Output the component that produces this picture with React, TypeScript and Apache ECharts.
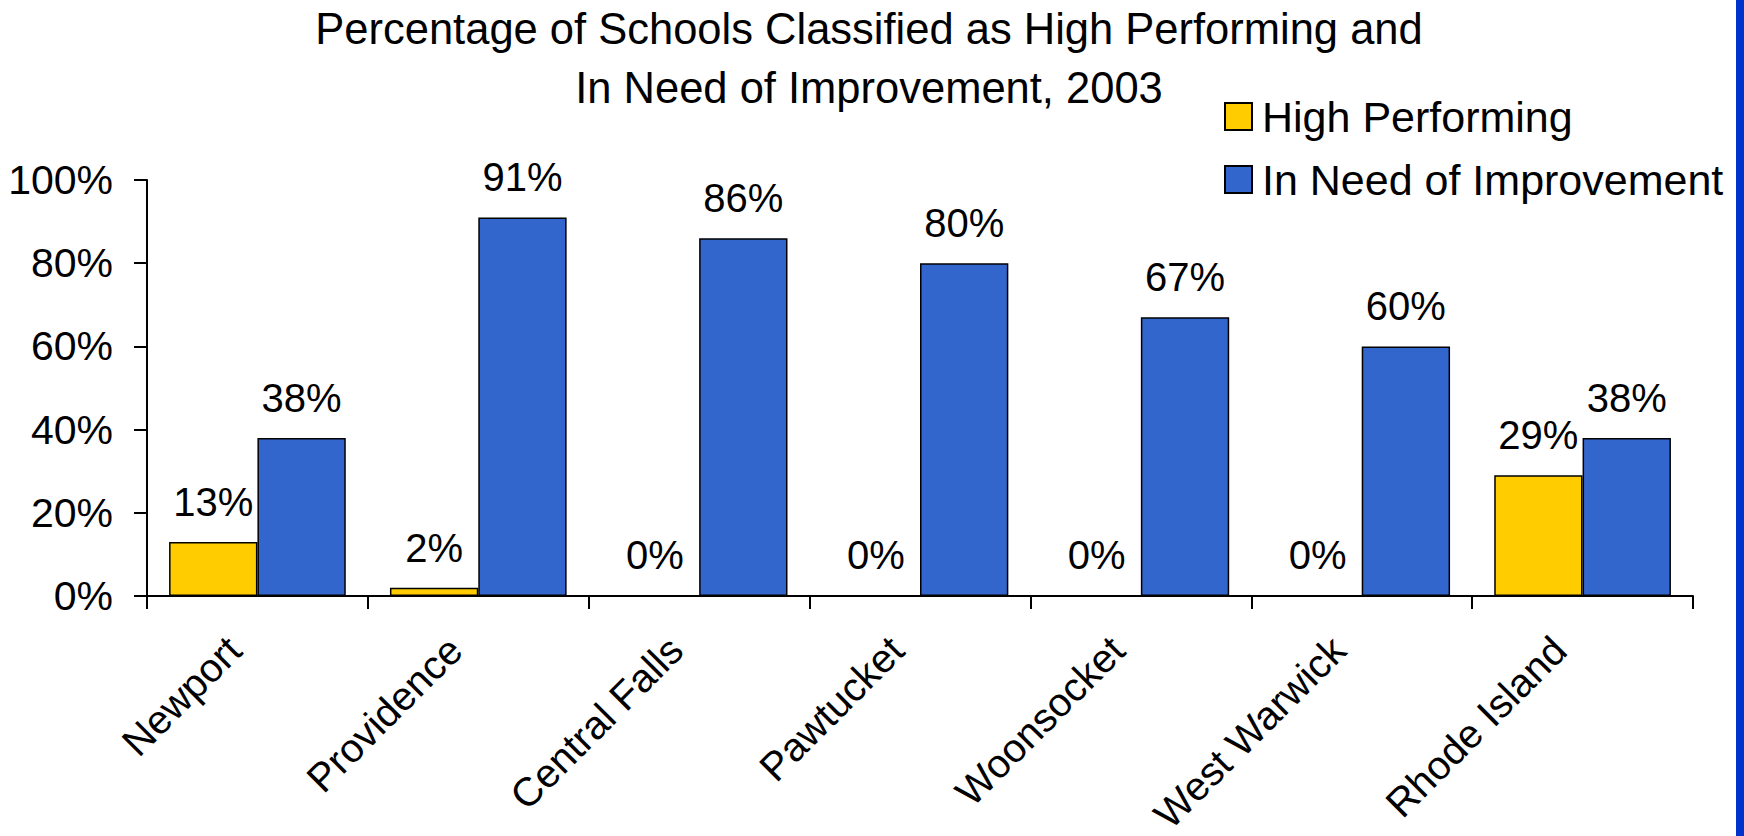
import React, { useEffect, useRef } from "react";
import * as echarts from "echarts";

const categories = ["Newport", "Providence", "Central Falls", "Pawtucket", "Woonsocket", "West Warwick", "Rhode Island"];
const highPerforming = [13, 2, 0, 0, 0, 0, 29];
const needImprovement = [38, 91, 86, 80, 67, 60, 38];
const seriesNames = ["High Performing", "In Need of Improvement"];
const titleLines = ["Percentage of Schools Classified as High Performing and", "In Need of Improvement, 2003"];

const FONT = "'Liberation Sans', Arial, Helvetica, sans-serif";

export default function App() {
  const ref = useRef<HTMLDivElement>(null);
  useEffect(() => {
    if (!ref.current) return;
    const chart = echarts.init(ref.current, null, { renderer: "svg" });
    const labelCfg = {
      show: true,
      position: "top",
      distance: 20,
      formatter: "{c}%",
      color: "#000",
      fontSize: 40,
      fontFamily: FONT,
    };
    chart.setOption({
      animation: false,
      backgroundColor: "#fff",
      textStyle: { fontFamily: FONT },
      graphic: [
        {
          type: "text",
          x: 869,
          y: -1,
          style: {
            text: titleLines.join("\n"),
            align: "center",
            verticalAlign: "top",
            fontSize: 43.5,
            lineHeight: 59,
            fontFamily: FONT,
            fill: "#000",
          },
        },
        {
          type: "rect",
          shape: { x: 1736, y: 0, width: 8, height: 836 },
          style: { fill: "#0033CC" },
        },
      ],
      legend: {
        orient: "vertical",
        left: 1219,
        top: 90,
        itemWidth: 27,
        itemHeight: 27,
        itemGap: 20,
        icon: "rect",
        textStyle: { fontSize: 43, color: "#000", fontFamily: FONT, padding: [0, 0, 0, 5] },
        data: seriesNames,
      },
      grid: { left: 147, right: 51, top: 180, bottom: 240, containLabel: false, outerBoundsMode: "none" },
      xAxis: {
        type: "category",
        data: categories,
        boundaryGap: true,
        axisLine: { lineStyle: { color: "#000", width: 2 } },
        axisTick: { show: true, length: 13, lineStyle: { color: "#000", width: 2 } },
        axisLabel: {
          interval: 0,
          rotate: 45,
          fontSize: 40,
          color: "#000",
          margin: 24,
          padding: [0, 33, 0, 0],
          fontFamily: FONT,
        },
      },
      yAxis: {
        type: "value",
        min: 0,
        max: 100,
        interval: 20,
        splitLine: { show: false },
        axisLine: { show: true, lineStyle: { color: "#000", width: 2 } },
        axisTick: { show: true, length: 13, lineStyle: { color: "#000", width: 2 } },
        axisLabel: { formatter: "{value}%", fontSize: 41, color: "#000", margin: 34, fontFamily: FONT },
      },
      series: [
        {
          name: seriesNames[0],
          type: "bar",
          data: highPerforming,
          barGap: "0%",
          barCategoryGap: "20%",
          itemStyle: { color: "#FFCC00", borderColor: "#000", borderWidth: 1.5 },
          label: labelCfg,
        },
        {
          name: seriesNames[1],
          type: "bar",
          data: needImprovement,
          barGap: "0%",
          barCategoryGap: "20%",
          itemStyle: { color: "#3366CC", borderColor: "#000", borderWidth: 1.5 },
          label: labelCfg,
        },
      ],
    });
    return () => chart.dispose();
  }, []);
  return <div ref={ref} style={{ position: "fixed", left: 0, top: 0, width: 1744, height: 836 }} />;
}
